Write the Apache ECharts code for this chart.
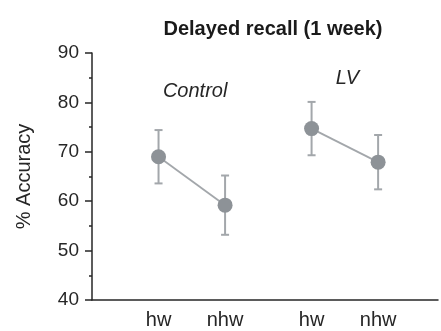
<!DOCTYPE html>
<html>
<head>
<meta charset="utf-8">
<script src="https://cdn.jsdelivr.net/npm/echarts@6/dist/echarts.min.js"></script>
<style>html,body{margin:0;padding:0;background:#fff}#c{width:441px;height:331px}</style>
</head>
<body>
<div id="c"></div>
<script>
// Data
var categories = ['hw', 'nhw', 'hw', 'nhw'];
var xPositions = [1.0, 2.0, 3.3, 4.3];
var groups = ['Control', 'LV'];
var controlMeans = [69.0, 59.2];
var controlErr = [5.4, 6.0];
var lvMeans = [74.7, 67.9];
var lvErr = [5.4, 5.5];
var groupLabelPos = [[1.55, 82.3], [3.84, 84.9]];
var yTicks = [40, 50, 60, 70, 80, 90];

var FONT = 'Liberation Sans, Arial, Helvetica, sans-serif';
var pointColor = '#8d9297';
var barColor = '#a3a7ab';
var textColor = '#262626';

function pts(xs, ys) { return xs.map(function (x, i) { return [x, ys[i]]; }); }
function errData(xs, m, e) { return xs.map(function (x, i) { return [x, m[i] - e[i], m[i] + e[i]]; }); }

var ctrlX = xPositions.slice(0, 2), lvX = xPositions.slice(2, 4);

function renderErr(params, api) {
  var x = api.value(0);
  var lo = api.coord([x, api.value(1)]);
  var hi = api.coord([x, api.value(2)]);
  var hw = 4;
  var st = { stroke: barColor, lineWidth: 2 };
  return {
    type: 'group',
    children: [
      { type: 'line', shape: { x1: lo[0], y1: lo[1], x2: hi[0], y2: hi[1] }, style: st },
      { type: 'line', shape: { x1: lo[0] - hw, y1: lo[1], x2: lo[0] + hw, y2: lo[1] }, style: st },
      { type: 'line', shape: { x1: hi[0] - hw, y1: hi[1], x2: hi[0] + hw, y2: hi[1] }, style: st }
    ]
  };
}

function labelFor(v) {
  for (var i = 0; i < xPositions.length; i++) {
    if (Math.abs(v - xPositions[i]) < 0.01) return categories[i];
  }
  return '';
}

var groupLabel = { show: true, formatter: '{b}', fontFamily: FONT, fontSize: 20, fontStyle: 'italic', color: textColor, position: 'inside' };

var chart = echarts.init(document.getElementById('c'), null, { renderer: 'canvas' });
chart.setOption({
  animation: false,
  backgroundColor: '#fff',
  title: {
    text: 'Delayed recall (1 week)',
    left: 268, top: 14, textAlign: 'center',
    textStyle: { fontFamily: FONT, fontSize: 20, fontWeight: 'bold', color: '#1a1a1a' }
  },
  grid: { left: 92, right: 0, top: 53, bottom: 31, containLabel: false },
  xAxis: {
    type: 'value', min: 0, max: 5.2, interval: 0.1,
    axisLine: { show: true, lineStyle: { color: textColor, width: 1.5 } },
    axisTick: { show: false },
    splitLine: { show: false },
    axisLabel: {
      show: true, margin: 10, fontFamily: FONT, fontSize: 20, color: textColor,
      showMinLabel: true, showMaxLabel: true,
      formatter: function (v) { return labelFor(v); }
    }
  },
  yAxis: {
    type: 'value', min: 40, max: 90, interval: 10,
    name: '% Accuracy', nameLocation: 'middle', nameGap: 58, nameRotate: 90,
    nameTextStyle: { fontFamily: FONT, fontSize: 20, color: textColor },
    axisLine: { show: true, lineStyle: { color: textColor, width: 1.5 } },
    axisTick: { show: true, length: 7, inside: false, lineStyle: { color: textColor, width: 1.5 } },
    minorTick: { show: true, splitNumber: 2, length: 3, lineStyle: { color: textColor, width: 1.5 } },
    splitLine: { show: false },
    axisLabel: { margin: 13, fontFamily: FONT, fontSize: 19, color: textColor,
      formatter: function (v) { return yTicks.indexOf(v) >= 0 ? String(v) : ''; } }
  },
  series: [
    { type: 'custom', name: groups[0] + ' err', renderItem: renderErr, data: errData(ctrlX, controlMeans, controlErr), z: 1 },
    { type: 'custom', name: groups[1] + ' err', renderItem: renderErr, data: errData(lvX, lvMeans, lvErr), z: 1 },
    {
      type: 'line', name: groups[0], data: pts(ctrlX, controlMeans), z: 3,
      symbol: 'circle', symbolSize: 15,
      itemStyle: { color: pointColor }, lineStyle: { color: barColor, width: 1.8 },
      markPoint: { symbol: 'circle', symbolSize: 0, label: groupLabel,
        data: [{ name: groups[0], coord: groupLabelPos[0] }] }
    },
    {
      type: 'line', name: groups[1], data: pts(lvX, lvMeans), z: 3,
      symbol: 'circle', symbolSize: 15,
      itemStyle: { color: pointColor }, lineStyle: { color: barColor, width: 1.8 },
      markPoint: { symbol: 'circle', symbolSize: 0, label: groupLabel,
        data: [{ name: groups[1], coord: groupLabelPos[1] }] }
    }
  ]
});
</script>
</body>
</html>
